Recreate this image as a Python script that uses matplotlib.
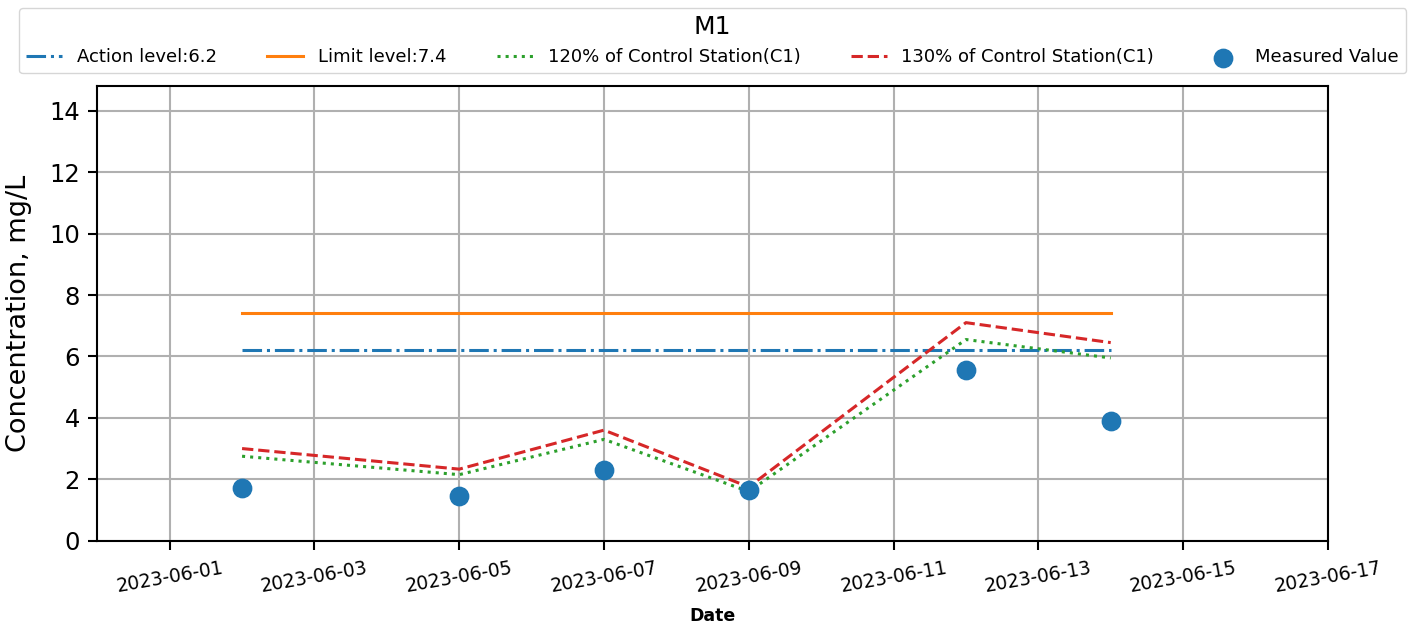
import numpy as np
import pandas as pd
import matplotlib
matplotlib.use("Agg")
import matplotlib.pyplot as plt
import matplotlib.dates as mdates

# === data ===
dates = pd.to_datetime(["2023-06-02", "2023-06-05", "2023-06-07",
                        "2023-06-09", "2023-06-12", "2023-06-14"])
measured = [1.70, 1.45, 2.30, 1.65, 5.55, 3.90]
pct120 = [2.75, 2.15, 3.30, 1.60, 6.55, 5.95]
pct130 = [3.00, 2.33, 3.60, 1.75, 7.10, 6.45]
ACTION = 6.2
LIMIT = 7.4
station = "M1"

fig = plt.figure(figsize=(14.14, 6.29), dpi=100)
ax = fig.add_axes([0.0688, 0.1404, 0.8703, 0.7226])

LW = 2.2
ax.plot(dates, [ACTION] * len(dates), '-.', color='C0', lw=LW,
        label=f"Action level:{ACTION}")
ax.plot(dates, [LIMIT] * len(dates), '-', color='C1', lw=LW,
        label=f"Limit level:{LIMIT}")
ax.plot(dates, pct120, ':', color='C2', lw=LW,
        label="120% of Control Station(C1)")
ax.plot(dates, pct130, '--', color='C3', lw=LW,
        label="130% of Control Station(C1)")
ax.scatter(dates, measured, s=175, color='C0', zorder=3, label="Measured Value")

ax.set_xlim(pd.Timestamp("2023-05-31"), pd.Timestamp("2023-06-17"))
ax.set_ylim(0, 2 * LIMIT)
ax.xaxis.set_major_locator(mdates.DayLocator(bymonthday=range(1, 30, 2)))
ax.xaxis.set_major_formatter(mdates.DateFormatter("%Y-%m-%d"))
ax.set_yticks(np.arange(0, 15, 2))

ax.grid(True, color='#b0b0b0', lw=1.5)
ax.set_axisbelow(True)
for sp in ax.spines.values():
    sp.set_linewidth(1.5)
ax.tick_params(width=1.5, length=6.5)
ax.tick_params(axis='y', labelsize=17.5, pad=6)
ax.tick_params(axis='x', labelsize=13.5, pad=6)
plt.setp(ax.get_xticklabels(), rotation=10, ha='center')

ax.set_ylabel("Concentration, mg/L", fontsize=19.5, labelpad=12)
ax.set_xlabel("Date", fontsize=12.5, fontweight='bold', labelpad=8)

ax.legend(loc='lower center', bbox_to_anchor=(0.5, 1.02), ncol=5,
          fontsize=13, title=station, title_fontsize=18,
          columnspacing=2.8, borderaxespad=0.2)

fig.savefig("out.png", dpi=100)
